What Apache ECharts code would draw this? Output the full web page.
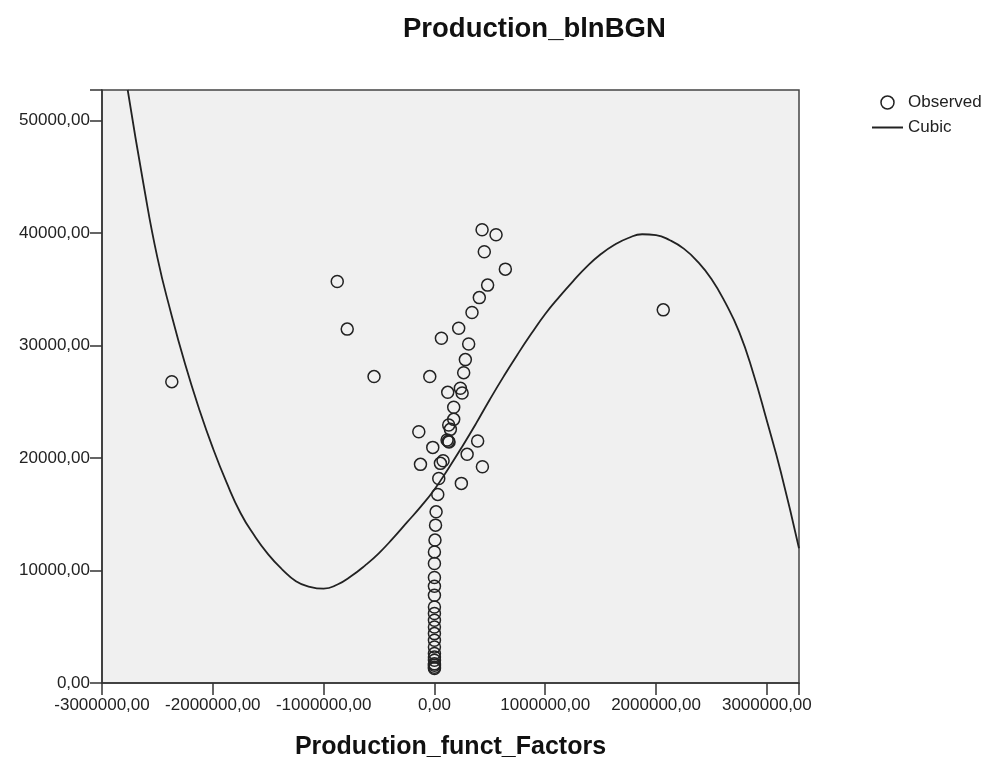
<!DOCTYPE html>
<html>
<head>
<meta charset="utf-8">
<script src="https://cdn.jsdelivr.net/npm/echarts@6/dist/echarts.min.js"></script>
<style>
html,body{margin:0;padding:0;background:#fff;}
#chart{width:987px;height:762px;}
</style>
</head>
<body>
<div id="chart"></div>
<script>
// Observed points (Production_funct_Factors, Production_blnBGN)
const obsX = [
  -2370000, -877000, -787000, -545000, 2065000,
  430000, 556000, 450000, 640000, 480000, 405000, 339000, 219000, 63000, 309000,
  279000, 264000, -42000, 234000, 250000, 120000, 174000, 174000, 129000, 144000,
  -141000, 114000, 125000, 132000, 390000, -15000, 295000, -126000, 54000, 78000,
  433000, 39000, 243000, 30000,
  15000, 10000, 5000, 0, 0, 0, 0, 0, 0, 0, 0, 0, 0, 0, 0, 0, 0, 0, 0, 0, 0, 0, 0
];
const obsY = [
  26780, 35680, 31450, 27230, 33160,
  40280, 39830, 38320, 36780, 35360, 34250, 32920, 31530, 30640, 30130,
  28740, 27580, 27230, 26190, 25780, 25830, 24500, 23430, 22930, 22540,
  22330, 21590, 21480, 21420, 21500, 20940, 20320, 19430, 19520, 19750,
  19220, 18180, 17740, 16760,
  15210, 14030, 12700, 11650, 10620, 9380, 8600, 7800, 6760, 6170, 5580, 4980, 4390, 3800, 3200, 2620, 2300, 2020, 1700, 1570, 1400, 1280
];
// Cubic fit line
const fitX = [
  -2768000, -2625000, -2500000, -2375000, -2250000, -2125000, -2000000, -1875000,
  -1750000, -1625000, -1500000, -1375000, -1250000, -1125000, -1000000, -875000,
  -750000, -625000, -500000, -375000, -250000, -125000, 0, 125000,
  250000, 375000, 500000, 625000, 750000, 875000, 1000000, 1125000,
  1250000, 1375000, 1500000, 1625000, 1750000, 1875000, 2000000, 2125000,
  2250000, 2375000, 2500000, 2625000, 2750000, 2875000, 3000000, 3125000, 3290000
];
const fitY = [
  52700, 44300, 37800, 32800, 28340, 24400, 20890, 17800,
  15110, 13100, 11430, 10100, 9050, 8550, 8380, 8750,
  9500, 10450, 11550, 12850, 14250, 15650, 17200, 19050,
  21000, 23050, 25200, 27250, 29200, 31050, 32800, 34300,
  35700, 37000, 38100, 38950, 39550, 39880, 39800, 39350,
  38600, 37450, 35900, 33800, 31200, 27600, 23300, 18800, 11980
];
const xTicks = [-3000000, -2000000, -1000000, 0, 1000000, 2000000, 3000000];
const yTicks = [0, 10000, 20000, 30000, 40000, 50000];

const fmt = v => v.toFixed(2).replace('.', ',');
const FONT = 'Liberation Sans, Arial, sans-serif';

const chart = echarts.init(document.getElementById('chart'), null, {renderer: 'canvas'});
chart.setOption({
  animation: false,
  backgroundColor: '#ffffff',
  title: {
    text: 'Production_blnBGN',
    left: 398, top: 10,
    textStyle: {fontFamily: FONT, fontSize: 27.5, fontWeight: 'bold', color: '#111'}
  },
  legend: {
    orient: 'vertical',
    left: 866, top: 89,
    itemWidth: 31, itemHeight: 13, itemGap: 8,
    textStyle: {fontFamily: FONT, fontSize: 17, color: '#222'},
    data: [
      {name: 'Observed', icon: 'circle', itemStyle: {color: 'rgba(0,0,0,0)', borderColor: '#222', borderWidth: 1.5}},
      {name: 'Cubic', itemStyle: {color: 'rgba(0,0,0,0)', borderColor: 'rgba(0,0,0,0)', borderWidth: 0, opacity: 0}}
    ]
  },
  grid: {
    left: 102, right: 188, top: 90, bottom: 79,
    show: true, backgroundColor: '#f0f0f0', borderColor: '#444', borderWidth: 1.5,
    containLabel: false, outerBoundsMode: 'none'
  },
  xAxis: {
    type: 'value',
    min: -3000000, max: 3290000, interval: 1000000,
    name: 'Production_funct_Factors',
    nameLocation: 'middle', nameGap: 52,
    nameTextStyle: {fontFamily: FONT, fontSize: 25, fontWeight: 'bold', color: '#111'},
    axisLine: {show: true, onZero: false, lineStyle: {color: '#333', width: 1.5}},
    axisTick: {show: true, length: 12, lineStyle: {color: '#333', width: 1.5}},
    splitLine: {show: false},
    axisLabel: {
      margin: 14, fontFamily: FONT, fontSize: 17, color: '#222',
      formatter: v => xTicks.indexOf(v) >= 0 ? fmt(v) : ''
    }
  },
  yAxis: {
    type: 'value',
    min: 0, max: 52700, interval: 10000,
    axisLine: {show: true, onZero: false, lineStyle: {color: '#333', width: 1.5}},
    axisTick: {show: true, length: 12, lineStyle: {color: '#333', width: 1.5}},
    splitLine: {show: false},
    axisLabel: {
      margin: 12, fontFamily: FONT, fontSize: 17, color: '#222',
      formatter: v => yTicks.indexOf(v) >= 0 ? fmt(v) : ''
    }
  },
  series: [
    {
      name: 'Observed',
      type: 'scatter',
      symbol: 'circle',
      symbolSize: 12,
      itemStyle: {color: 'rgba(0,0,0,0)', borderColor: '#222', borderWidth: 1.5, opacity: 1},
      data: obsX.map((x, i) => [x, obsY[i]]),
      z: 3
    },
    {
      name: 'Cubic',
      type: 'line',
      symbol: 'none',
      showSymbol: false,
      smooth: 0.5,
      clip: true,
      lineStyle: {color: '#222', width: 1.8},
      itemStyle: {color: '#222'},
      data: fitX.map((x, i) => [x, fitY[i]]),
      z: 2
    }
  ]
});
</script>
</body>
</html>
